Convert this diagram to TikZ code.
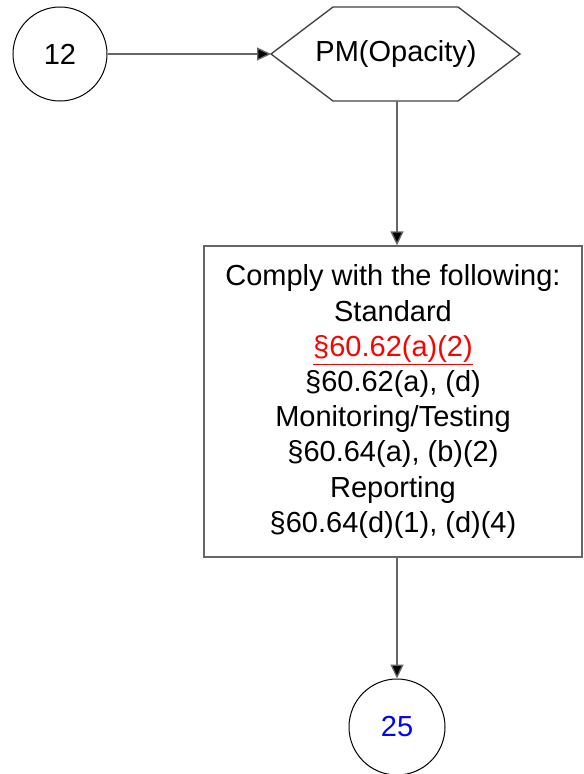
\documentclass[tikz,border=0pt]{standalone}
\usepackage{fontspec}
\setmainfont{Liberation Sans}
\usetikzlibrary{arrows.meta}

\begin{document}
\begin{tikzpicture}[x=0.75pt,y=-0.75pt,
    every node/.style={font=\fontsize{21.75}{26.4}\selectfont},
    conn/.style={draw=black!60,line width=1pt,-{Triangle[length=10.5pt,width=9.75pt,fill=black]}}]
    \useasboundingbox (0,0) rectangle (583,774);
    % start / end connectors
    \node[circle,draw,line width=0.75pt,minimum size=70.5pt,inner sep=0pt] (c12) at (60,54) {12};
    \node[circle,draw,line width=0.75pt,minimum size=72pt,inner sep=0pt,text=blue] (c25) at (397,727) {25};
    % pollutant hexagon
    \coordinate (pmW) at (271,54);
    \coordinate (pmS) at (397,101);
    \draw[black!75,line width=1pt] (pmW) -- (333,7) -- (458,7) -- (520,54) -- (458,101) -- (333,101) -- cycle;
    \node (pm) at (396,54) {PM(Opacity)};
    % requirements box
    \node[draw=black!60,line width=1pt,minimum width=283.5pt,minimum height=233.25pt,align=center] (req) at (393,401.5)
        {Comply with the following:\\ Standard\\ \textcolor{red}{\underline{§60.62(a)(2)}}\\ §60.62(a), (d)\\
         Monitoring/Testing\\ §60.64(a), (b)(2)\\ Reporting\\ §60.64(d)(1), (d)(4)};
	\draw[conn] (c12) -- (pmW);
	\draw[conn] (pmS) -- (req.north -| pmS);
	\draw[conn] (req.south -| c25) -- (c25);
\end{tikzpicture}
\end{document}
